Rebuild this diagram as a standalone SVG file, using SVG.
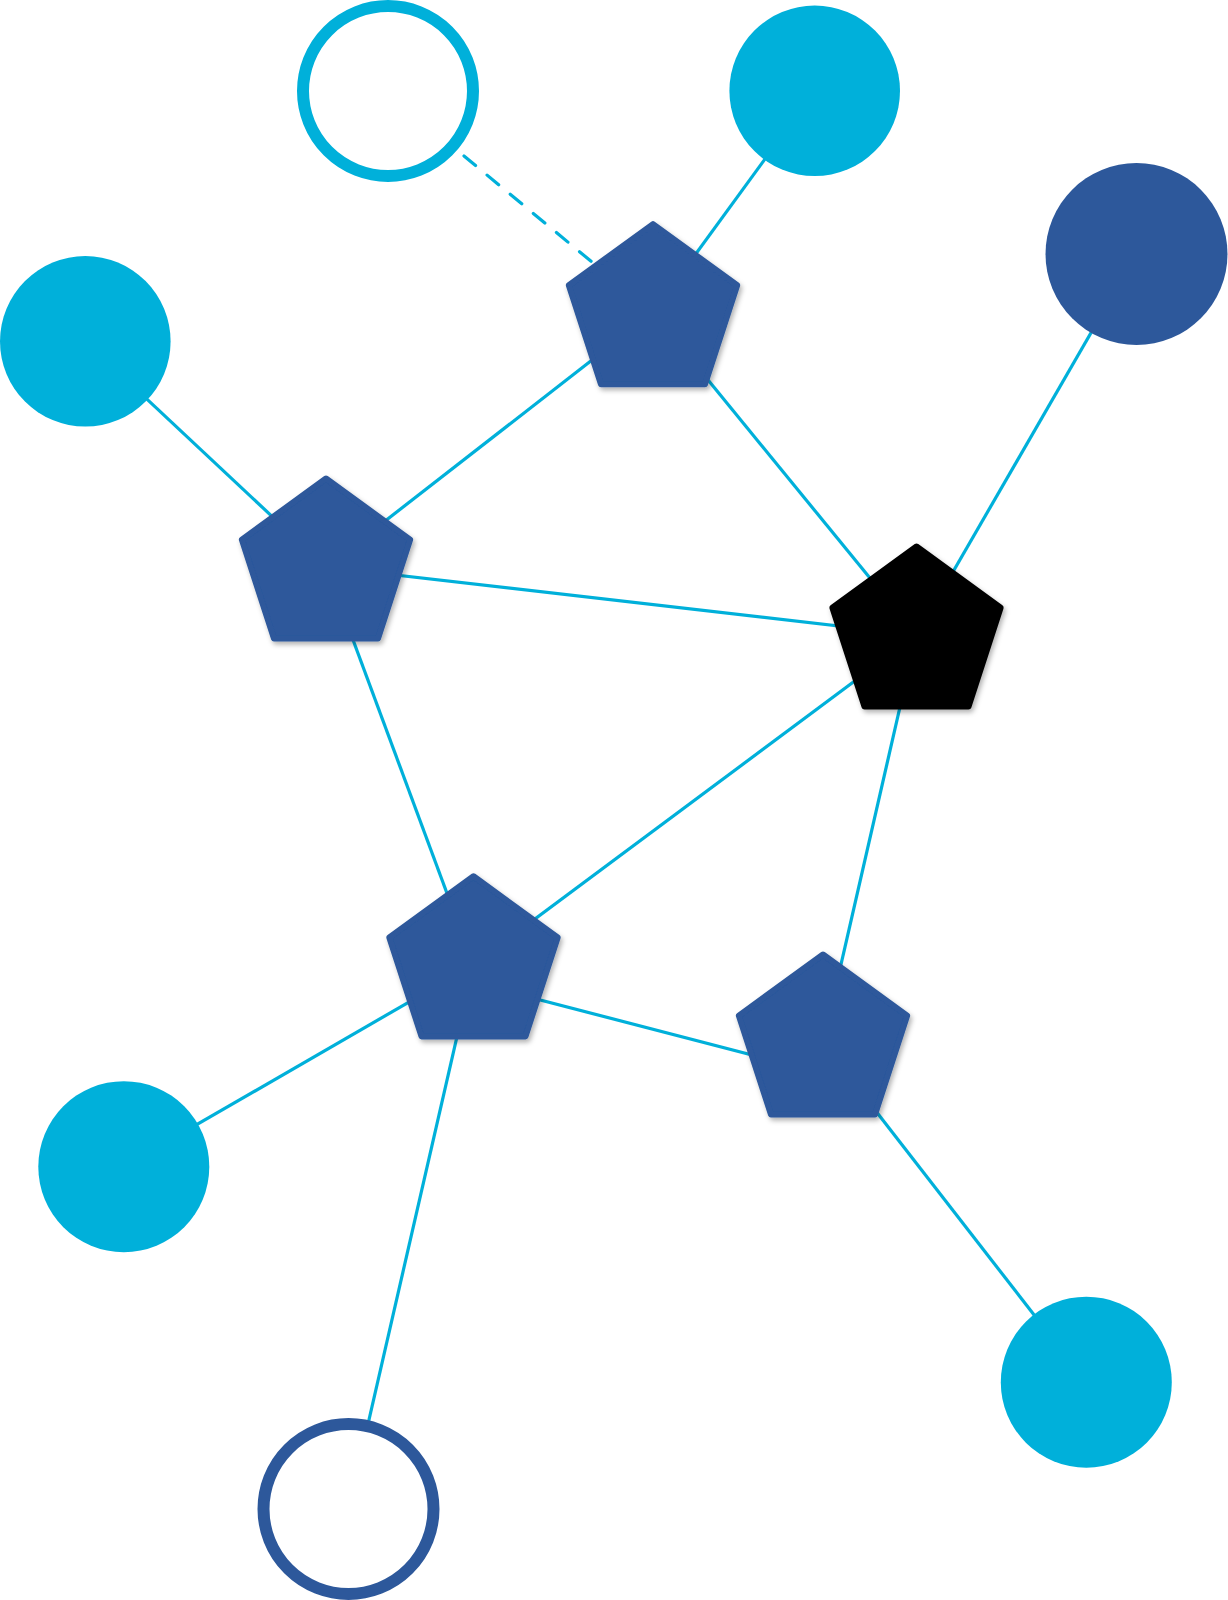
<svg xmlns="http://www.w3.org/2000/svg" xmlns:xlink="http://www.w3.org/1999/xlink" width="1228" height="1600" viewBox="0 0 1228 1600">
<style>
.edge{stroke:#00B0DA;stroke-width:3.2;fill:none}
.dash{stroke-dasharray:15 15;stroke-linecap:round}
.cy{fill:#00B0DA}
.db{fill:#2D589B}
.pent{stroke-width:6;stroke-linejoin:round;filter:url(#sh)}
.pb{fill:#2D589B;stroke:#2D589B}
.pk{fill:#000;stroke:#000}
.ring-cy{fill:#fff;stroke:#00B0DA;stroke-width:12}
.ring-db{fill:#fff;stroke:#2D589B;stroke-width:12}
</style>
<defs>
<filter id="sh" x="-20%" y="-20%" width="140%" height="140%">
<feDropShadow dx="2" dy="3" stdDeviation="2.5" flood-color="#000" flood-opacity="0.3"/>
</filter>
<polygon id="pg" points="0,-88.5 84.17,-27.35 52.02,71.6 -52.02,71.6 -84.17,-27.35"/>
</defs>
<rect width="1228" height="1600" fill="#fff"/>
<g id="connectors">
<line class="edge dash" x1="464" y1="156" x2="653" y2="312.6"/>
<line class="edge" x1="814.7" y1="90.8" x2="653" y2="312.6"/>
<line class="edge" x1="653" y1="312.6" x2="326" y2="567"/>
<line class="edge" x1="653" y1="312.6" x2="916.5" y2="635"/>
<line class="edge" x1="1136.5" y1="254" x2="916.5" y2="635"/>
<line class="edge" x1="85.3" y1="341.3" x2="326" y2="567"/>
<line class="edge" x1="326" y1="567" x2="916.5" y2="635"/>
<line class="edge" x1="326" y1="567" x2="473.5" y2="964.8"/>
<line class="edge" x1="916.5" y1="635" x2="473.5" y2="964.8"/>
<line class="edge" x1="916.5" y1="635" x2="823" y2="1043"/>
<line class="edge" x1="475" y1="983" x2="823" y2="1073.5"/>
<line class="edge" x1="473.5" y1="964.8" x2="123.8" y2="1166.7"/>
<line class="edge" x1="473.5" y1="964.8" x2="348.5" y2="1509"/>
<line class="edge" x1="823" y1="1043" x2="1086.3" y2="1382.2"/>
</g>
<g id="c1"><circle class="ring-cy" cx="388" cy="91" r="85"/></g>
<g id="c2"><circle class="cy" cx="814.7" cy="90.8" r="85.3"/></g>
<g id="c3"><circle class="db" cx="1136.5" cy="254" r="91"/></g>
<g id="c4"><circle class="cy" cx="85.3" cy="341.3" r="85.3"/></g>
<g id="c5"><circle class="cy" cx="123.8" cy="1166.7" r="85.5"/></g>
<g id="c6"><circle class="cy" cx="1086.3" cy="1382.2" r="85.5"/></g>
<g id="c7"><circle class="ring-db" cx="348.5" cy="1509" r="85"/></g>
<g id="p1"><use xlink:href="#pg" class="pent pb" transform="translate(653,312.6)"/></g>
<g id="p2"><use xlink:href="#pg" class="pent pb" transform="translate(326,567)"/></g>
<g id="p3"><use xlink:href="#pg" class="pent pk" transform="translate(916.5,635)"/></g>
<g id="p4"><use xlink:href="#pg" class="pent pb" transform="translate(473.5,964.8)"/></g>
<g id="p5"><use xlink:href="#pg" class="pent pb" transform="translate(823,1043)"/></g>
</svg>
